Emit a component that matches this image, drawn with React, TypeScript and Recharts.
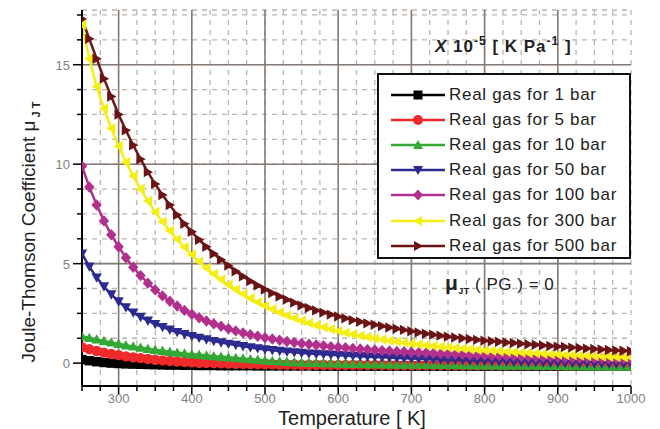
import React from 'react';
import { LineChart, Line, XAxis, YAxis, CartesianGrid, ReferenceLine, Legend } from 'recharts';

// Temperature grid [K]
const TEMPS = [
  250, 260, 270, 280, 290, 300, 310, 320, 330, 340,
  350, 360, 370, 380, 390, 400, 410, 420, 430, 440,
  450, 460, 470, 480, 490, 500, 510, 520, 530, 540,
  550, 560, 570, 580, 590, 600, 610, 620, 630, 640,
  650, 660, 670, 680, 690, 700, 710, 720, 730, 740,
  750, 760, 770, 780, 790, 800, 810, 820, 830, 840,
  850, 860, 870, 880, 890, 900, 910, 920, 930, 940,
  950, 960, 970, 980, 990, 1000,
];

// Joule-Thomson coefficient, x 10^-5 K/Pa
const P1 = [
  0.18, 0.12, 0.07, 0.03, 0.0, -0.02, -0.04, -0.05, -0.06, -0.07,
  -0.08, -0.09, -0.1, -0.1, -0.11, -0.11, -0.12, -0.12, -0.12, -0.13,
  -0.13, -0.13, -0.13, -0.13, -0.14, -0.14, -0.14, -0.14, -0.14, -0.14,
  -0.14, -0.14, -0.15, -0.15, -0.15, -0.15, -0.15, -0.15, -0.15, -0.15,
  -0.15, -0.15, -0.15, -0.15, -0.15, -0.15, -0.15, -0.15, -0.15, -0.15,
  -0.15, -0.15, -0.15, -0.15, -0.15, -0.15, -0.15, -0.15, -0.15, -0.15,
  -0.15, -0.15, -0.15, -0.15, -0.15, -0.15, -0.15, -0.15, -0.15, -0.15,
  -0.15, -0.15, -0.15, -0.15, -0.15, -0.15,
];

const P5 = [
  0.8, 0.7, 0.61, 0.53, 0.46, 0.4, 0.34, 0.29, 0.25, 0.21,
  0.17, 0.14, 0.11, 0.08, 0.06, 0.04, 0.02, 0.01, 0.0, -0.01,
  -0.02, -0.03, -0.04, -0.05, -0.05, -0.06, -0.06, -0.07, -0.07, -0.07,
  -0.08, -0.08, -0.08, -0.08, -0.09, -0.09, -0.09, -0.09, -0.09, -0.09,
  -0.09, -0.09, -0.1, -0.1, -0.1, -0.1, -0.1, -0.1, -0.1, -0.1,
  -0.1, -0.1, -0.1, -0.1, -0.1, -0.1, -0.1, -0.1, -0.1, -0.1,
  -0.1, -0.1, -0.1, -0.1, -0.1, -0.11, -0.11, -0.11, -0.11, -0.11,
  -0.11, -0.11, -0.11, -0.11, -0.11, -0.11,
];

const P10 = [
  1.35, 1.27, 1.19, 1.11, 1.04, 0.97, 0.9, 0.84, 0.78, 0.72,
  0.67, 0.62, 0.57, 0.53, 0.49, 0.45, 0.42, 0.38, 0.35, 0.32,
  0.29, 0.26, 0.23, 0.2, 0.17, 0.14, 0.11, 0.09, 0.07, 0.05,
  0.03, 0.02, 0.01, 0.0, -0.01, -0.02, -0.03, -0.04, -0.04, -0.05,
  -0.05, -0.06, -0.06, -0.07, -0.07, -0.08, -0.08, -0.08, -0.09, -0.09,
  -0.09, -0.1, -0.1, -0.1, -0.11, -0.11, -0.11, -0.12, -0.12, -0.12,
  -0.13, -0.13, -0.13, -0.14, -0.14, -0.14, -0.15, -0.15, -0.15, -0.16,
  -0.16, -0.16, -0.17, -0.17, -0.17, -0.18,
];

const P50 = [
  5.5, 4.85, 4.3, 3.85, 3.45, 3.1, 2.8, 2.54, 2.32, 2.13,
  1.96, 1.81, 1.68, 1.56, 1.45, 1.36, 1.27, 1.19, 1.11, 1.04,
  0.97, 0.91, 0.85, 0.79, 0.74, 0.69, 0.65, 0.61, 0.57, 0.54,
  0.51, 0.48, 0.46, 0.44, 0.42, 0.4, 0.38, 0.36, 0.34, 0.32,
  0.31, 0.29, 0.28, 0.26, 0.25, 0.23, 0.22, 0.2, 0.19, 0.17,
  0.16, 0.15, 0.14, 0.12, 0.11, 0.1, 0.09, 0.08, 0.07, 0.06,
  0.05, 0.04, 0.04, 0.03, 0.02, 0.01, 0.01, 0.0, -0.01, -0.01,
  -0.02, -0.02, -0.03, -0.03, -0.04, -0.04,
];

const P100 = [
  9.9, 8.85, 7.95, 7.15, 6.45, 5.85, 5.3, 4.82, 4.4, 4.02,
  3.68, 3.38, 3.11, 2.87, 2.65, 2.46, 2.28, 2.12, 1.98, 1.85,
  1.73, 1.62, 1.52, 1.43, 1.35, 1.28, 1.21, 1.15, 1.09, 1.04,
  0.99, 0.95, 0.91, 0.87, 0.83, 0.8, 0.77, 0.74, 0.71, 0.68,
  0.66, 0.63, 0.61, 0.59, 0.57, 0.55, 0.53, 0.51, 0.49, 0.47,
  0.46, 0.44, 0.43, 0.41, 0.4, 0.39, 0.37, 0.36, 0.35, 0.34,
  0.33, 0.32, 0.31, 0.3, 0.29, 0.28, 0.27, 0.26, 0.25, 0.25,
  0.24, 0.23, 0.22, 0.22, 0.21, 0.2,
];

const P300 = [
  17.0, 15.3, 13.9, 12.8, 11.8, 10.9, 10.1, 9.4, 8.75, 8.15,
  7.6, 7.1, 6.65, 6.22, 5.82, 5.45, 5.1, 4.78, 4.48, 4.2,
  3.94, 3.7, 3.47, 3.26, 3.06, 2.88, 2.71, 2.55, 2.4, 2.26,
  2.13, 2.01, 1.9, 1.8, 1.7, 1.61, 1.53, 1.45, 1.38, 1.31,
  1.25, 1.19, 1.13, 1.08, 1.03, 0.98, 0.94, 0.9, 0.86, 0.82,
  0.79, 0.76, 0.73, 0.7, 0.67, 0.64, 0.62, 0.6, 0.57, 0.55,
  0.53, 0.51, 0.49, 0.47, 0.45, 0.43, 0.41, 0.4, 0.38, 0.36,
  0.35, 0.33, 0.32, 0.3, 0.29, 0.28,
];

const P500 = [
  17.3, 16.3, 15.3, 14.3, 13.4, 12.5, 11.7, 10.95, 10.25, 9.6,
  9.0, 8.45, 7.95, 7.45, 7.0, 6.6, 6.2, 5.85, 5.5, 5.2,
  4.9, 4.62, 4.36, 4.12, 3.9, 3.7, 3.52, 3.35, 3.19, 3.04,
  2.9, 2.77, 2.65, 2.54, 2.44, 2.34, 2.25, 2.16, 2.08, 2.0,
  1.93, 1.86, 1.79, 1.73, 1.67, 1.6, 1.54, 1.48, 1.43, 1.38,
  1.33, 1.29, 1.25, 1.21, 1.17, 1.13, 1.1, 1.07, 1.04, 1.01,
  0.98, 0.95, 0.92, 0.89, 0.86, 0.83, 0.81, 0.78, 0.76, 0.73,
  0.71, 0.69, 0.66, 0.64, 0.62, 0.6,
];

const X_TICKS = [
  250, 275, 300, 325, 350, 375, 400, 425, 450, 475, 500, 525, 550, 575, 600, 625,
  650, 675, 700, 725, 750, 775, 800, 825, 850, 875, 900, 925, 950, 975, 1000,
];
const X_LABELS = [300, 400, 500, 600, 700, 800, 900, 1000];
const Y_TICKS = [0, 1.25, 2.5, 3.75, 5, 6.25, 7.5, 8.75, 10, 11.25, 12.5, 13.75, 15, 16.25, 17.5];
const Y_LABELS = [0, 5, 10, 15];

const SERIES = [
  { key: 'p1', name: 'Real gas for 1 bar', values: P1, color: '#000000', shape: 'square' },
  { key: 'p5', name: 'Real gas for 5 bar', values: P5, color: '#ee2a2a', shape: 'circle' },
  { key: 'p10', name: 'Real gas for 10 bar', values: P10, color: '#34a834', shape: 'up' },
  { key: 'p50', name: 'Real gas for 50 bar', values: P50, color: '#2c2a8e', shape: 'down' },
  { key: 'p100', name: 'Real gas for 100 bar', values: P100, color: '#b1308e', shape: 'diamond' },
  { key: 'p300', name: 'Real gas for 300 bar', values: P300, color: '#f4ee12', shape: 'left' },
  { key: 'p500', name: 'Real gas for 500 bar', values: P500, color: '#6b1416', shape: 'right' },
];

const rows = TEMPS.map((t, i) => {
  const row: Record<string, number> = { T: t };
  SERIES.forEach((s) => {
    row[s.key] = s.values[i];
  });
  return row;
});

const FONT = '"Liberation Sans", Arial, sans-serif';
const PLOT_LEFT = 82;
const PLOT_BOTTOM = 386;

function Marker({ cx, cy, shape, color, s = 5.2 }: any) {
  if (cx == null || cy == null) return null;
  switch (shape) {
    case 'square':
      return <rect x={cx - s + 0.5} y={cy - s + 0.5} width={2 * s - 1} height={2 * s - 1} fill={color} />;
    case 'circle':
      return <circle cx={cx} cy={cy} r={s} fill={color} />;
    case 'up':
      return <polygon points={`${cx},${cy - s} ${cx - s},${cy + s * 0.8} ${cx + s},${cy + s * 0.8}`} fill={color} />;
    case 'down':
      return <polygon points={`${cx},${cy + s} ${cx - s},${cy - s * 0.8} ${cx + s},${cy - s * 0.8}`} fill={color} />;
    case 'left':
      return <polygon points={`${cx - s},${cy} ${cx + s * 0.8},${cy - s} ${cx + s * 0.8},${cy + s}`} fill={color} />;
    case 'right':
      return <polygon points={`${cx + s},${cy} ${cx - s * 0.8},${cy - s} ${cx - s * 0.8},${cy + s}`} fill={color} />;
    case 'diamond':
      return <polygon points={`${cx},${cy - s - 0.5} ${cx + s},${cy} ${cx},${cy + s + 0.5} ${cx - s},${cy}`} fill={color} />;
    default:
      return null;
  }
}

const XTick = ({ x, payload }: any) => {
  const major = X_LABELS.includes(payload.value);
  return (
    <g>
      <line x1={x} x2={x} y1={PLOT_BOTTOM} y2={PLOT_BOTTOM + (major ? 8 : 5)} stroke="#000" strokeWidth={1.5} />
      {major && (
        <text x={x} y={PLOT_BOTTOM + 17} textAnchor="middle" fontSize={13} fill="#808080" fontFamily={FONT}>
          {payload.value}
        </text>
      )}
    </g>
  );
};

const YTick = ({ y, payload }: any) => {
  const major = Y_LABELS.includes(payload.value);
  return (
    <g>
      <line x1={PLOT_LEFT - (major ? 9 : 5)} x2={PLOT_LEFT} y1={y} y2={y} stroke="#000" strokeWidth={1.5} />
      {major && (
        <text x={PLOT_LEFT - 12} y={y + 5} textAnchor="end" fontSize={13} fill="#808080" fontFamily={FONT}>
          {payload.value}
        </text>
      )}
    </g>
  );
};

const renderLegend = () => (
  <div
    style={{
      width: 254,
      height: 186,
      boxSizing: 'border-box',
      border: '2px solid #111',
      background: '#fff',
      padding: '7px 0 0 12px',
      fontFamily: FONT,
    }}
  >
    {SERIES.map((s) => (
      <div key={s.key} style={{ display: 'flex', alignItems: 'center', height: 25.2 }}>
        <svg width={54} height={14} style={{ display: 'block' }}>
          <line x1={0} x2={54} y1={7} y2={7} stroke={s.color} strokeWidth={2.5} />
          <Marker cx={27} cy={7} shape={s.shape} color={s.color} s={5} />
        </svg>
        <span style={{ marginLeft: 4, fontSize: 17, letterSpacing: 0.7, color: '#222', whiteSpace: 'nowrap' }}>
          {s.name}
        </span>
      </div>
    ))}
  </div>
);

export default function App() {
  return (
    <div style={{ position: 'absolute', left: 0, top: 0, width: 660, height: 429, background: '#fff', fontFamily: FONT }}>
      <LineChart width={660} height={429} data={rows} margin={{ top: 10, right: 29, bottom: 0, left: 0 }}>
        <CartesianGrid stroke="#bcb4ae" strokeDasharray="5 5" strokeWidth={1.3} />
        {X_LABELS.filter((v) => v < 1000).map((v) => (
          <ReferenceLine key={`vx${v}`} x={v} stroke="#857b75" strokeWidth={1.6} />
        ))}
        {Y_LABELS.map((v) => (
          <ReferenceLine key={`hy${v}`} y={v} stroke="#857b75" strokeWidth={1.6} />
        ))}
        <XAxis
          type="number"
          dataKey="T"
          domain={[250, 1000]}
          ticks={X_TICKS}
          interval={0}
          height={43}
          allowDataOverflow
          axisLine={{ stroke: '#000', strokeWidth: 2 }}
          tickLine={false}
          tick={<XTick />}
        />
        <YAxis
          type="number"
          domain={[-1.15, 17.75]}
          ticks={Y_TICKS}
          interval={0}
          width={82}
          allowDataOverflow
          axisLine={{ stroke: '#000', strokeWidth: 2 }}
          tickLine={false}
          tick={<YTick />}
        />
        {SERIES.map((s) => (
          <Line
            key={s.key}
            type="linear"
            dataKey={s.key}
            name={s.name}
            stroke={s.color}
            strokeWidth={2.5}
            isAnimationActive={false}
            activeDot={false}
            dot={(p: any) => <Marker key={`${s.key}-${p.index}`} cx={p.cx} cy={p.cy} shape={s.shape} color={s.color} />}
          />
        ))}
        <Legend
          layout="vertical"
          align="center"
          verticalAlign="middle"
          content={renderLegend}
          wrapperStyle={{ left: 377, top: 73, width: 254, height: 186 }}
        />
      </LineChart>

      {/* unit note */}
      <div
        style={{
          position: 'absolute',
          left: 435,
          top: 34,
          fontSize: 17,
          letterSpacing: 1,
          fontWeight: 'bold',
          color: '#222',
          whiteSpace: 'nowrap',
        }}
      >
        <i>X</i> 10<sup style={{ fontSize: 12 }}>-5</sup> [ K Pa<sup style={{ fontSize: 12 }}>-1</sup> ]
      </div>

      {/* perfect gas note */}
      <div style={{ position: 'absolute', left: 445, top: 271, fontSize: 17, letterSpacing: 0.5, color: '#222', whiteSpace: 'nowrap' }}>
        <b style={{ fontSize: 21 }}>μ</b>
        <sub style={{ fontSize: 9, fontWeight: 'bold' }}>JT</sub> ( PG ) = 0
      </div>

      {/* y axis title */}
      <div
        style={{
          position: 'absolute',
          left: 30,
          top: 232,
          transform: 'translate(-50%, -50%) rotate(-90deg)',
          fontSize: 19,
          color: '#222',
          whiteSpace: 'nowrap',
        }}
      >
        Joule-Thomson Coefficient μ<sub style={{ fontSize: 11, fontWeight: 'bold' }}> J T</sub>
      </div>

      {/* x axis title */}
      <div
        style={{
          position: 'absolute',
          left: 352,
          top: 418,
          transform: 'translate(-50%, -50%)',
          fontSize: 20,
          lineHeight: '22px',
          color: '#222',
          whiteSpace: 'nowrap',
        }}
      >
        Temperature [ K]
      </div>
    </div>
  );
}
